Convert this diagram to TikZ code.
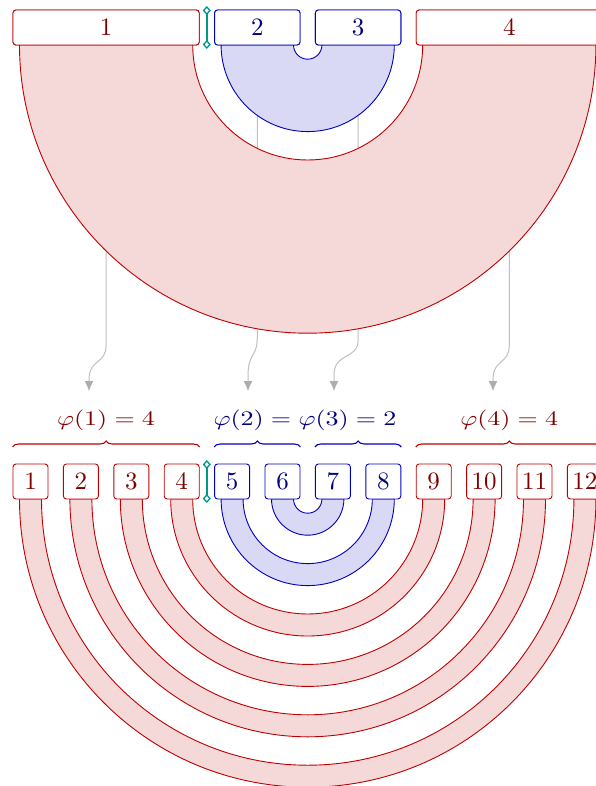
\documentclass[tikz,border=0pt]{standalone}
\usepackage{graphicx}
\usetikzlibrary{arrows.meta,decorations.pathreplacing}
\definecolor{myteal}{RGB}{0,150,136}
\colorlet{redline}{red!75!black}
\colorlet{redfill}{red!75!black!15}
\colorlet{redtext}{red!50!black}
\colorlet{blueline}{blue!75!black}
\colorlet{bluefill}{blue!75!black!15}
\colorlet{bluetext}{blue!50!black}
\newcommand{\mybigtext}[1]{\scalebox{2.5}{#1}}
\newcommand{\mylabtext}[1]{\scalebox{2.6}[2.07]{#1}}
\begin{document}
\begin{tikzpicture}[x=1pt,y=-1pt,
  boxbase/.style={rectangle, rounded corners=3pt, fill=white, line width=0.9pt,
    minimum height=35pt, inner sep=0pt},
  redbox/.style={boxbase, draw=redline, text=redtext},
  bluebox/.style={boxbase, draw=blueline, text=bluetext},
  redband/.style={fill=redfill, draw=redline, line width=0.9pt},
  blueband/.style={fill=bluefill, draw=blueline, line width=0.9pt},
  grayarrow/.style={draw=black!25, line width=1pt, -{Latex[length=10pt,width=9pt,color=black!32]}},
  tealmark/.style={draw=myteal, line width=1.6pt, {Diamond[open,length=9pt,width=8pt,line width=1.3pt]}-{Diamond[open,length=9pt,width=8pt,line width=1.3pt]}},
  bracestyle/.style={decorate, decoration={brace, amplitude=6pt}, line width=1.1pt},
  lab/.style={anchor=base},
]
\clip (0,0) rectangle (596,786);
\def\cx{307.7}
% top boxes
\node[redbox, minimum width=186.2pt] (t1) at (106.1,27.5) {\mybigtext{1}};
\node[bluebox, minimum width=85.4pt] (t2) at (257.3,27.5) {\mybigtext{2}};
\node[bluebox, minimum width=85.4pt] (t3) at (358.1,27.5) {\mybigtext{3}};
\node[redbox, minimum width=186.2pt] (t4) at (509.3,27.5) {\mybigtext{4}};
% gray arrows (drawn under the bands)
\coordinate (e1) at (89,391);
\coordinate (e2) at (248,391);
\coordinate (e3) at (334,391);
\coordinate (e4) at (493,391);
\draw[grayarrow] (t1.south) -- (106.1,345) .. controls (106.1,365) and (89,358) .. (89,380) -- (e1);
\draw[grayarrow] (t2.south) -- (257.3,337) .. controls (257.3,358) and (248,352) .. (248,376) -- (e2);
\draw[grayarrow] (t3.south) -- (358.1,340) .. controls (358.1,360) and (334,352) .. (334,375) -- (e3);
\draw[grayarrow] (t4.south) -- (509.3,345) .. controls (509.3,365) and (493,358) .. (493,380) -- (e4);
% top bands
\path[redband] (\cx-288.2,45) arc[start angle=180,end angle=0,radius=288.2] -- (\cx+115.0,45) arc[start angle=0,end angle=180,radius=115.0] -- cycle;
\path[blueband] (\cx-86.6,45) arc[start angle=180,end angle=0,radius=86.6] -- (\cx+14.2,45) arc[start angle=0,end angle=180,radius=14.2] -- cycle;
% redraw top boxes on top
\node[redbox, minimum width=186.2pt] at (t1) {\mybigtext{1}};
\node[bluebox, minimum width=85.4pt] at (t2) {\mybigtext{2}};
\node[bluebox, minimum width=85.4pt] at (t3) {\mybigtext{3}};
\node[redbox, minimum width=186.2pt] at (t4) {\mybigtext{4}};
% bottom bands
\foreach \i/\st in {1/redband,2/redband,3/redband,4/redband,5/blueband,6/blueband} {
  \pgfmathsetmacro\R{\cx-(13+(\i-1)*50.4+6.5)}
  \pgfmathsetmacro\r{\R-22}
  \path[\st] (\cx-\R,499) arc[start angle=180,end angle=0,radius=\R] -- (\cx+\r,499) arc[start angle=0,end angle=180,radius=\r] -- cycle;
}
% bottom boxes
\foreach \i in {1,2,3,4,9,10,11,12} {
  \node[redbox, minimum width=35pt] (b\i) at ({13+(\i-1)*50.4+17.5},481.5) {\mybigtext{\i}};
}
\foreach \i in {5,6,7,8} {
  \node[bluebox, minimum width=35pt] (b\i) at ({13+(\i-1)*50.4+17.5},481.5) {\mybigtext{\i}};
}
% teal markers
\coordinate (m1a) at (206.8,6);
\coordinate (m1b) at (206.8,49);
\coordinate (m2a) at (206.8,460);
\coordinate (m2b) at (206.8,503);
\draw[tealmark] (m1a) -- (m1b);
\draw[tealmark] (m2a) -- (m2b);
% braces
\draw[bracestyle, draw=redline] (b1.west |- 0,447) -- (b4.east |- 0,447);
\draw[bracestyle, draw=blueline] (b5.west |- 0,447) -- (b6.east |- 0,447);
\draw[bracestyle, draw=blueline] (b7.west |- 0,447) -- (b8.east |- 0,447);
\draw[bracestyle, draw=redline] (b9.west |- 0,447) -- (b12.east |- 0,447);
% labels
\node[lab, text=redtext] (l1) at (106.1,425) {\mylabtext{$\varphi(1) = 4$}};
\node[lab, text=bluetext] (l2) at (305,425) {\mylabtext{$\varphi(2) = \varphi(3) = 2$}};
\node[lab, text=redtext] (l4) at (509.3,425) {\mylabtext{$\varphi(4) = 4$}};
\end{tikzpicture}
\end{document}
